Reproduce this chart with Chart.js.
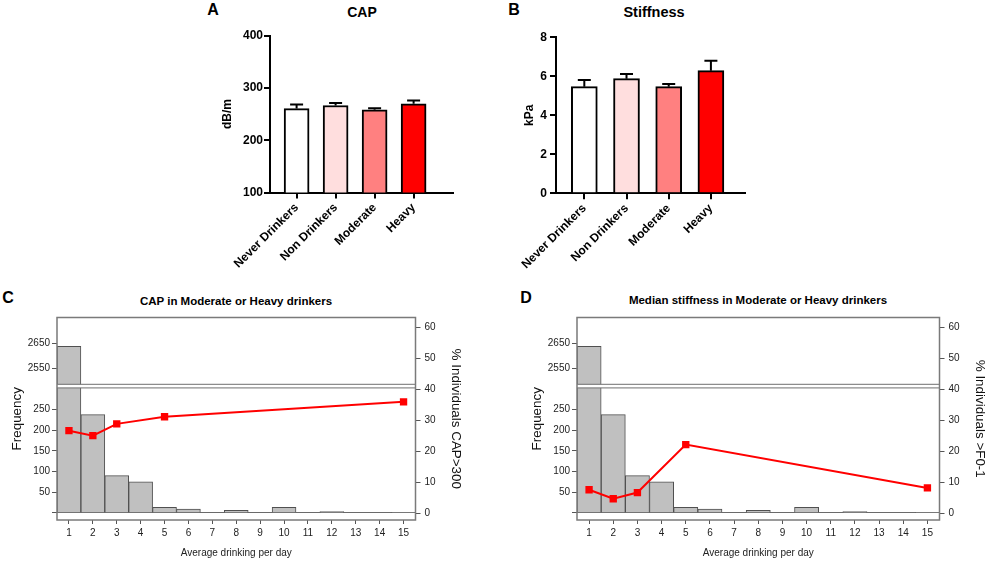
<!DOCTYPE html>
<html>
<head>
<meta charset="utf-8">
<script src="https://cdn.jsdelivr.net/npm/chart.js@4.4.1/dist/chart.umd.min.js"></script>
<style>
  html, body { margin: 0; padding: 0; background: #fff; overflow: hidden; }
  #fig { position: relative; width: 987px; height: 561px; font-family: "Liberation Sans", Arial, sans-serif; color: #000; }
  #fig canvas { position: absolute; }
  .lbl { position: absolute; font-weight: bold; transform: translate(-50%, -50%); white-space: nowrap; }
</style>
</head>
<body>
<div id="fig">
  <div class="lbl" style="left:213px;top:10px;font-size:16px">A</div>
  <div class="lbl" style="left:362px;top:12px;font-size:14px">CAP</div>
  <div class="lbl" style="left:514px;top:10px;font-size:16px">B</div>
  <div class="lbl" style="left:654px;top:12px;font-size:14.5px">Stiffness</div>
  <div class="lbl" style="left:8px;top:298px;font-size:16px">C</div>
  <div class="lbl" style="left:236px;top:301px;font-size:11.5px">CAP in Moderate or Heavy drinkers</div>
  <div class="lbl" style="left:526px;top:298px;font-size:16px">D</div>
  <div class="lbl" style="left:758px;top:300px;font-size:11.5px">Median stiffness in Moderate or Heavy drinkers</div>

  <canvas id="capChart"   width="290" height="290" style="left:180px;top:0px"></canvas>
  <canvas id="stiffChart" width="290" height="290" style="left:470px;top:0px"></canvas>
  <canvas id="capHist"    width="470" height="271" style="left:0px;top:290px"></canvas>
  <canvas id="stiffHist"  width="474" height="271" style="left:520px;top:290px"></canvas>
</div>

<script>
// ---- data ----
const groups      = ['Never Drinkers', 'Non Drinkers', 'Moderate', 'Heavy'];
const capMean     = [260.6, 266.4, 258.1, 269.6];
const capSem      = [7.7, 4.6, 3.3, 6.4];
const capTicks    = [100, 200, 300, 400];
const stiffMean   = [5.47, 5.88, 5.47, 6.29];
const stiffSem    = [0.34, 0.24, 0.13, 0.51];
const stiffTicks  = [0, 2, 4, 6, 8];

const drinkBins   = ['1', '2', '3', '4', '5', '6', '7', '8', '9', '10', '11', '12', '13', '14', '15'];
const binCounts   = [2638, 238, 90, 75, 13, 9, 0, 6, 0, 13, 0, 3, 0, 0, 1];
const freqTicks   = [0, 50, 100, 150, 200, 250, 2550, 2650];
const pctTicks    = [0, 10, 20, 30, 40, 50, 60];
const lineBins    = ['1', '2', '3', '5', '15'];
const capOver300  = [26.6, 25.0, 28.8, 31.1, 35.9];
const stiffOverF1 = [7.5, 4.6, 6.6, 22.1, 8.1];

const groupColors = ['#FFFFFF', '#FFDEDE', '#FF8080', '#FF0000'];

Chart.defaults.font.family = '"Liberation Sans", Arial, sans-serif';
Chart.defaults.color = '#000';

// Linear scale with a gap: two linear segments sharing one axis.
class BrokenScale extends Chart.LinearScale {
  static id = 'broken';
  static defaults = Chart.LinearScale.defaults;
  _decimal(v) {
    const o = this.options;
    if (v <= o.breakLow)  return (v - this.min) / (o.breakLow - this.min) * o.fracLow;
    if (v >= o.breakHigh) return o.fracHigh + (v - o.breakHigh) / (this.max - o.breakHigh) * (1 - o.fracHigh);
    return o.fracLow + (v - o.breakLow) / (o.breakHigh - o.breakLow) * (o.fracHigh - o.fracLow);
  }
  getPixelForValue(v) {
    return (v === null || v === undefined || isNaN(v)) ? NaN : this.getPixelForDecimal(this._decimal(v));
  }
}
Chart.register(BrokenScale);

const fixedTicks = arr => s => { s.ticks = arr.map(v => ({ value: v })); };

function errorBars(mean, sem) {
  return {
    id: 'errorBars',
    afterDatasetsDraw(chart) {
      const { ctx, scales: { y } } = chart;
      ctx.save();
      ctx.strokeStyle = '#000';
      ctx.lineWidth = 2;
      chart.getDatasetMeta(0).data.forEach((bar, i) => {
        const top = y.getPixelForValue(mean[i] + sem[i]);
        ctx.beginPath();
        ctx.moveTo(bar.x, bar.y);
        ctx.lineTo(bar.x, top);
        ctx.moveTo(bar.x - 6.5, top);
        ctx.lineTo(bar.x + 6.5, top);
        ctx.stroke();
      });
      ctx.restore();
    }
  };
}

const frameAndBreak = {
  id: 'frameAndBreak',
  afterDatasetsDraw(chart) {
    const { ctx, chartArea: a, scales: { y } } = chart;
    const top = y.getPixelForValue(y.options.breakHigh);
    const bot = y.getPixelForValue(y.options.breakLow);
    ctx.save();
    ctx.fillStyle = '#fff';
    ctx.fillRect(a.left, top, a.right - a.left, bot - top);
    ctx.strokeStyle = '#707070';
    ctx.lineWidth = 1;
    ctx.beginPath();
    ctx.moveTo(a.left, top); ctx.lineTo(a.right, top);
    ctx.moveTo(a.left, bot); ctx.lineTo(a.right, bot);
    ctx.stroke();
    ctx.strokeStyle = '#7a7a7a';
    ctx.lineWidth = 1.5;
    ctx.strokeRect(a.left, a.top, a.right - a.left, a.bottom - a.top);
    ctx.restore();
  }
};

function barPanel(id, mean, sem, ticks, yTitle, geo) {
  return new Chart(document.getElementById(id), {
    type: 'bar',
    data: {
      datasets: [{
        data: mean.map((v, i) => ({ x: i, y: v })),
        backgroundColor: groupColors,
        borderColor: '#000',
        borderWidth: 2,
        barThickness: geo.barWidth
      }]
    },
    options: {
      responsive: false,
      animation: false,
      events: [],
      layout: { padding: { top: geo.top, right: geo.right, left: 0, bottom: 0 } },
      plugins: { legend: { display: false }, tooltip: { enabled: false } },
      scales: {
        x: {
          type: 'linear',
          min: geo.xMin, max: geo.xMax,
          offset: false,
          afterBuildTicks: fixedTicks(groups.map((g, i) => i)),
          ticks: {
            callback: v => groups[v],
            font: { size: 12, weight: 'bold' },
            color: '#000',
            minRotation: 45, maxRotation: 45,
            autoSkip: false,
            padding: 2
          },
          grid: { offset: false, drawOnChartArea: false, color: '#000', lineWidth: 2, tickLength: 6 },
          border: { color: '#000', width: 2 },
          afterFit: s => { s.height = geo.xHeight; }
        },
        y: {
          min: ticks[0], max: ticks[ticks.length - 1],
          afterBuildTicks: fixedTicks(ticks),
          ticks: { font: { size: 12, weight: 'bold' }, color: '#000', padding: geo.tickPad },
          grid: { drawOnChartArea: false, color: '#000', lineWidth: 2, tickLength: 6 },
          border: { color: '#000', width: 2 },
          title: { display: true, text: yTitle, font: { size: 12, weight: 'bold' }, color: '#000', padding: { top: geo.titlePad, bottom: 0 } },
          afterFit: s => { s.width = geo.yWidth; }
        }
      }
    },
    plugins: [errorBars(mean, sem)]
  });
}

function histPanel(id, pct, pctTitle) {
  return new Chart(document.getElementById(id), {
    type: 'bar',
    data: {
      labels: drinkBins,
      datasets: [
        {
          type: 'line',
          data: lineBins.map((b, i) => ({ x: b, y: pct[i] })),
          yAxisID: 'y2',
          borderColor: '#FF0000',
          backgroundColor: '#FF0000',
          borderWidth: 2,
          tension: 0,
          pointStyle: 'rect',
          pointRadius: 5.2,
          pointBorderWidth: 0,
          order: 0
        },
        {
          data: binCounts,
          yAxisID: 'y',
          backgroundColor: '#C0C0C0',
          borderColor: '#505050',
          borderWidth: 1,
          categoryPercentage: 1,
          barPercentage: 1,
          order: 1
        }
      ]
    },
    options: {
      responsive: false,
      animation: false,
      events: [],
      layout: { padding: { top: 27.5, right: 0, left: 0, bottom: 0 } },
      plugins: { legend: { display: false }, tooltip: { enabled: false } },
      scales: {
        x: {
          type: 'category',
          offset: true,
          ticks: { font: { size: 10 }, color: '#222', padding: 3, autoSkip: false, maxRotation: 0 },
          grid: { offset: false, drawOnChartArea: false, color: '#555', tickLength: 4 },
          border: { display: false },
          title: { display: true, text: 'Average drinking per day', font: { size: 10 }, color: '#222', padding: { top: 0, bottom: 2 } },
          afterFit: s => { s.height = 41; }
        },
        y: {
          type: 'broken',
          position: 'left',
          min: -17.7, max: 2751.6,
          breakLow: 303, breakHigh: 2487.5,
          fracLow: 0.6523, fracHigh: 0.6701,
          afterBuildTicks: fixedTicks(freqTicks),
          ticks: { callback: v => (v === 0 ? '' : String(v)), font: { size: 10 }, color: '#222', padding: 2 },
          grid: {
            color: c => (c.tick && c.tick.value === 0 ? '#6a6a6a' : 'rgba(0,0,0,0)'),
            tickColor: '#555',
            tickLength: 5,
            lineWidth: 1
          },
          border: { display: false },
          title: { display: true, text: 'Frequency', font: { size: 13.4 }, color: '#111', padding: { top: 9.2, bottom: 0 } },
          afterFit: s => { s.width = 57; }
        },
        y2: {
          type: 'linear',
          position: 'right',
          min: -2.26, max: 63.15,
          afterBuildTicks: fixedTicks(pctTicks),
          ticks: { font: { size: 10 }, color: '#222', padding: 4 },
          grid: { drawOnChartArea: false, color: '#555', tickLength: 5 },
          border: { display: false },
          title: { display: true, text: pctTitle, font: { size: 13.4 }, color: '#111', padding: { top: 6.1, bottom: 0 } },
          afterFit: s => { s.width = 54.5; }
        }
      }
    },
    plugins: [frameAndBreak]
  });
}

barPanel('capChart', capMean, capSem, capTicks, 'dB/m',
  { top: 35.7, right: 17, xHeight: 97.5, yWidth: 90, xMin: -0.682, xMax: 4.01, barWidth: 25, tickPad: 1, titlePad: 40.8 });
barPanel('stiffChart', stiffMean, stiffSem, stiffTicks, 'kPa',
  { top: 37.3, right: 15, xHeight: 96.7, yWidth: 86, xMin: -0.671, xMax: 3.808, barWidth: 26, tickPad: 3, titlePad: 52.3 });
histPanel('capHist', capOver300, '% Individuals CAP>300');
histPanel('stiffHist', stiffOverF1, '% Individuals >F0-1');
</script>
</body>
</html>
